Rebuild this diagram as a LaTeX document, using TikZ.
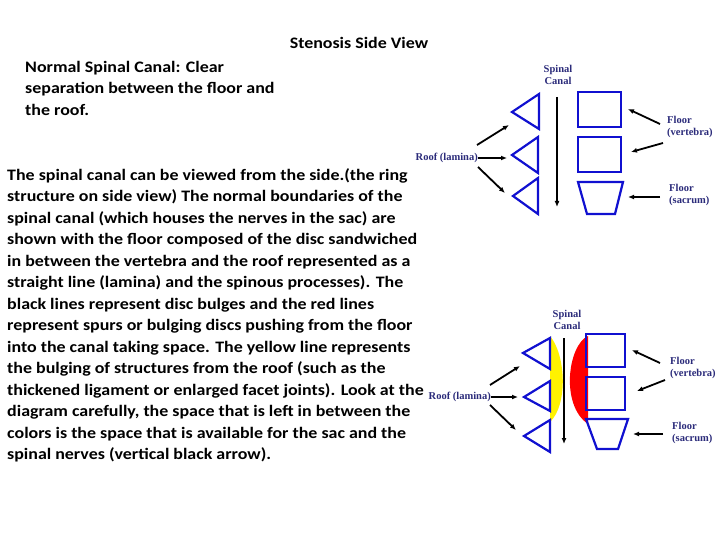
\documentclass[tikz,border=0pt]{standalone}
\usepackage{fontspec}
\usetikzlibrary{arrows.meta}
\setmainfont{Carlito}
\newfontfamily\lab{Liberation Serif}
\definecolor{navy}{HTML}{2B2B7A}
\definecolor{sblue}{HTML}{1010D0}
\begin{document}
\begin{tikzpicture}[x=1pt,y=-1pt,
  body/.style={font=\bfseries\fontsize{16}{21.5}\selectfont,align=left,inner sep=0pt,xscale=1.12},
  lbl/.style={font=\lab\bfseries\fontsize{10.5}{12}\selectfont,text=navy,inner sep=0pt,align=left},
  bone/.style={draw=sblue,line width=2.2pt,line join=miter},
  arr/.style={-{Latex[length=6pt,width=5pt]},line width=1.8pt}]
\useasboundingbox (0,0) rectangle (720,540);
\node[body,anchor=north] (title) at (359,37) {Stenosis Side View};
\node[body,anchor=north west] (normal) at (25,61) {Normal Spinal Canal: Clear\\separation between the floor and\\the roof.};
\node[body,anchor=north west] (text) at (7,168) {The spinal canal can be viewed from the side.(the ring\\structure on side view) The normal boundaries of the\\spinal canal (which houses the nerves in the sac) are\\shown with the floor composed of the disc sandwiched\\in between the vertebra and the roof represented as a\\straight line (lamina) and the spinous processes). The\\black lines represent disc bulges and the red lines\\represent spurs or bulging discs pushing from the floor\\into the canal taking space. The yellow line represents\\the bulging of structures from the roof (such as the\\thickened ligament or enlarged facet joints). Look at the\\diagram carefully, the space that is left in between the\\colors is the space that is available for the sac and the\\spinal nerves (vertical black arrow).};
% top diagram
\draw[bone] (512,112)--(539,94)--(539,129)--cycle;
\draw[bone] (512,155)--(538,137)--(538,173)--cycle;
\draw[bone] (513,196)--(538,178)--(538,214)--cycle;
\draw[bone] (578,92) rectangle (621,127);
\draw[bone] (578,137) rectangle (621,172);
\draw[bone] (578,182)--(623,182)--(615,214)--(587,214)--cycle;
\node[lbl,align=center] (sc1) at (558,75) {Spinal\\Canal};
\coordinate (c1a) at (557,97); \coordinate (c1b) at (557,207);
\draw[arr] (c1a)--(c1b);
\node[lbl,anchor=east] (roof1) at (478,158) {Roof (lamina)};
\node[lbl,anchor=west] (fv1) at (667,127) {Floor\\(vertebra)};
\node[lbl,anchor=west] (fs1) at (669,195) {Floor\\(sacrum)};
\coordinate (r1a) at (509,125); \coordinate (r1b) at (507,158); \coordinate (r1c) at (505,193);
\draw[arr] (477,145)--(r1a); \draw[arr] (roof1.east)--(r1b); \draw[arr] (478,167)--(r1c);
\coordinate (f1a) at (628,109); \coordinate (f1b) at (631,152); \coordinate (f1c) at (628,197);
\draw[arr] (660,124)--(f1a); \draw[arr] (663,143)--(f1b); \draw[arr] (660,197)--(f1c);
% bottom diagram
\fill[yellow] (550,336) .. controls (566,355) and (568,405) .. (550,422) -- cycle;
\fill[red] (588,336) .. controls (568,345) and (560,405) .. (588,424) -- cycle;
\draw[bone] (523,353)--(550,338)--(550,369)--cycle;
\draw[bone] (524,397)--(550,381)--(550,411)--cycle;
\draw[bone] (524,436)--(550,420)--(550,452)--cycle;
\draw[bone] (586,334) rectangle (625,367);
\draw[bone] (586,377) rectangle (625,410);
\draw[bone] (586,419)--(628,419)--(618,449)--(597,449)--cycle;
\node[lbl,align=center] (sc2) at (567,320) {Spinal\\Canal};
\coordinate (c2a) at (564,338); \coordinate (c2b) at (564,444);
\draw[arr] (c2a)--(c2b);
\node[lbl,anchor=east] (roof2) at (491,397) {Roof (lamina)};
\node[lbl,anchor=west] (fv2) at (670,368) {Floor\\(vertebra)};
\node[lbl,anchor=west] (fs2) at (672,433) {Floor\\(sacrum)};
\coordinate (r2a) at (520,366); \coordinate (r2b) at (518,397); \coordinate (r2c) at (516,430);
\draw[arr] (490,385)--(r2a); \draw[arr] (roof2.east)--(r2b); \draw[arr] (490,405)--(r2c);
\coordinate (f2a) at (632,350); \coordinate (f2b) at (637,391); \coordinate (f2c) at (633,434);
\draw[arr] (660,363)--(f2a); \draw[arr] (665,380)--(f2b); \draw[arr] (663,434)--(f2c);
\end{tikzpicture}
\end{document}
